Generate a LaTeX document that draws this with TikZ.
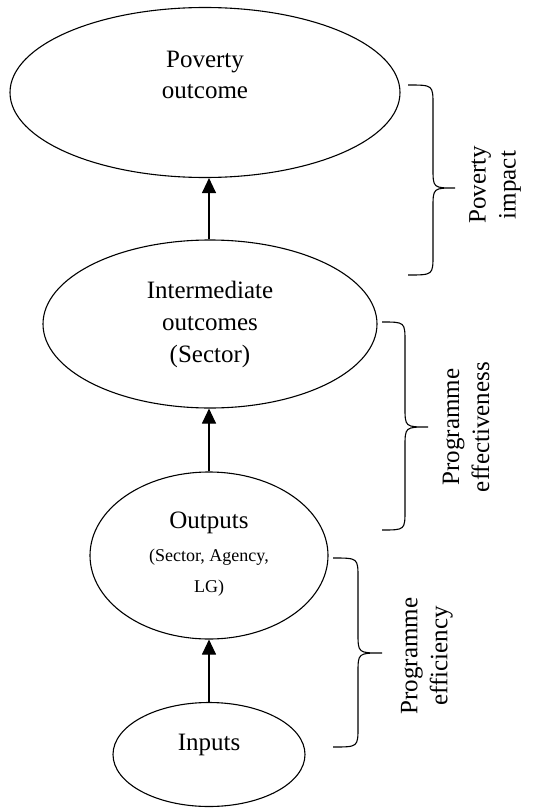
\documentclass[tikz,border=0pt]{standalone}
\usepackage{fontspec}
\setmainfont{Liberation Serif}
\usetikzlibrary{arrows.meta,shapes.geometric}
\begin{document}
\begin{tikzpicture}[x=1pt,y=-1pt,
  oval/.style={draw,ellipse,line width=1.1pt,inner sep=0pt},
  big/.style={font=\fontsize{25}{31}\selectfont,inner sep=0pt,anchor=base},
  small/.style={font=\fontsize{18}{22}\selectfont,inner sep=0pt,anchor=base},
  side/.style={font=\fontsize{25}{30}\selectfont,rotate=90,align=center,inner sep=0pt},
  link/.style={line width=1.1pt,-{Triangle[length=15pt,width=14pt]}},
  bracepath/.style={line width=1.1pt}]
\useasboundingbox (0,0) rectangle (544,808);
% ellipses
\node[oval,minimum width=390pt,minimum height=170pt] (po) at (205,92.5) {};
\node[oval,minimum width=334pt,minimum height=168pt] (io) at (210,324) {};
\node[oval,minimum width=238pt,minimum height=167pt] (op) at (209,555.5) {};
\node[oval,minimum width=192pt,minimum height=104pt] (in) at (209,754.5) {};
% texts
\node[big] (po1) at (205,67) {Poverty};
\node[big] (po2) at (205,98) {outcome};
\node[big] (io1) at (210,298) {Intermediate};
\node[big] (io2) at (210,330) {outcomes};
\node[big] (io3) at (210,362) {(Sector)};
\node[big] (op1) at (209,528) {Outputs};
\node[small] (op2) at (209,561) {(Sector, Agency,};
\node[small] (op3) at (209,592) {LG)};
\node[big] (in1) at (209,750) {Inputs};
% arrows
\draw[link] (in.north) -- (in.north |- op.south);
\draw[link] (op.north) -- (op.north |- io.south);
\draw[link] (io.north -| op.north) -- (op.north |- po.south);
% braces
\draw[bracepath] (408,85) .. controls (433,85) .. (433,105) -- (433,168)
  .. controls (433,188) .. (455,188) .. controls (433,188) .. (433,208)
  -- (433,255) .. controls (433,275) .. (408,275);
\draw[bracepath] (382,322) .. controls (405,322) .. (405,342) -- (405,407)
  .. controls (405,427) .. (428,427) .. controls (405,427) .. (405,447)
  -- (405,510) .. controls (405,530) .. (382,530);
\draw[bracepath] (333,558) .. controls (358,558) .. (358,578) -- (358,633)
  .. controls (358,653) .. (382,653) .. controls (358,653) .. (358,673)
  -- (358,727) .. controls (358,747) .. (333,747);
% side labels
\node[side] (pi) at (495,185) {Poverty\\impact};
\node[side] (pe) at (466,427) {Programme\\effectiveness};
\node[side] (pf) at (427,656) {Programme\\efficiency};
\end{tikzpicture}
\end{document}
